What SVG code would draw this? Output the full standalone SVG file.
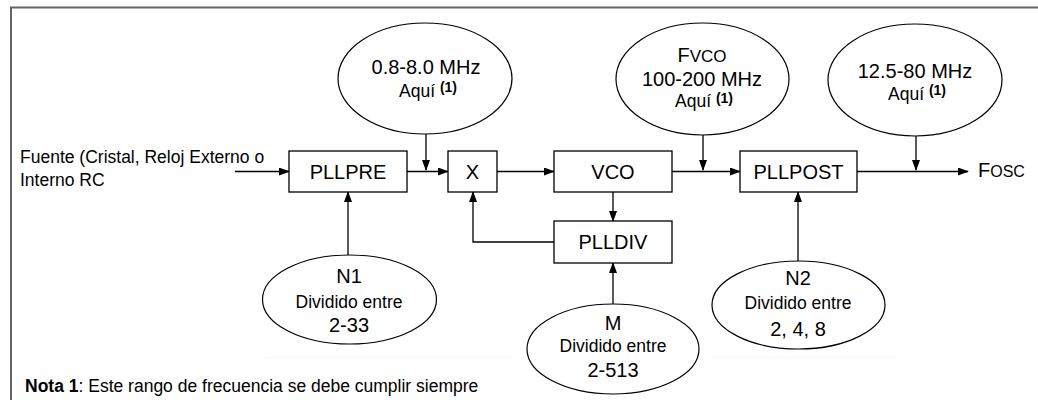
<svg xmlns="http://www.w3.org/2000/svg" width="1038" height="400" viewBox="0 0 1038 400">
<defs>
<marker id="ah" markerUnits="userSpaceOnUse" markerWidth="11" markerHeight="8" refX="10" refY="4" orient="auto">
<path d="M0,0 L11,4 L0,8 z" fill="#000"/>
</marker>
<style>
text{font-family:"Liberation Sans",Arial,sans-serif;fill:#000}
.box{fill:#fff;stroke:#000;stroke-width:1.3}
.ell{fill:#fff;stroke:#000;stroke-width:1.2}
.c{fill:none;stroke:#000;stroke-width:1.3}
.a{marker-end:url(#ah)}
.bl{font-size:20px;text-anchor:middle}
.big{font-size:20px;text-anchor:middle}
.sm{font-size:17.5px;text-anchor:middle}
.sup{font-size:14px;font-weight:bold}
.frame{fill:none;stroke:#666;stroke-width:2}
</style>
</defs>
<rect width="1038" height="400" fill="#fff"/>
<path class="frame" d="M11,400 V7.5 H1038"/>
<line x1="265" y1="357.5" x2="512" y2="357.5" stroke="#f7f7f7" stroke-width="1"/>
<line x1="712" y1="357.5" x2="898" y2="357.5" stroke="#f7f7f7" stroke-width="1"/>

<g id="connectors">
<line class="c a" x1="235" y1="171.5" x2="289" y2="171.5"/>
<line class="c a" x1="407" y1="171.5" x2="448" y2="171.5"/>
<line class="c a" x1="426" y1="134" x2="426" y2="170"/>
<line class="c a" x1="497" y1="171.5" x2="554" y2="171.5"/>
<line class="c a" x1="672" y1="171.5" x2="740" y2="171.5"/>
<line class="c a" x1="703" y1="135" x2="703" y2="170"/>
<line class="c a" x1="857" y1="171.5" x2="968" y2="171.5"/>
<line class="c a" x1="916" y1="136" x2="916" y2="170"/>
<line class="c a" x1="613" y1="192" x2="613" y2="221"/>
<polyline class="c a" points="554,242 473,242 473,192"/>
<line class="c a" x1="348" y1="255" x2="348" y2="192"/>
<line class="c a" x1="613" y1="304" x2="613" y2="263"/>
<line class="c a" x1="798" y1="261" x2="798" y2="192"/>
</g>

<g id="input-label">
<text x="20" y="163" style="font-size:17.5px">Fuente (Cristal, Reloj Externo o</text>
<text x="20" y="186" style="font-size:17.5px">Interno RC</text>
</g>

<g id="pllpre">
<rect class="box" x="289" y="151" width="118" height="41"/>
<text class="bl" x="348" y="179">PLLPRE</text>
</g>
<g id="mixer">
<rect class="box" x="448" y="151" width="49" height="41"/>
<text class="bl" x="472.5" y="179">X</text>
</g>
<g id="vco">
<rect class="box" x="554" y="151" width="118" height="41"/>
<text class="bl" x="613" y="179">VCO</text>
</g>
<g id="pllpost">
<rect class="box" x="740" y="151" width="117" height="41"/>
<text class="bl" x="798.5" y="179">PLLPOST</text>
</g>
<g id="plldiv">
<rect class="box" x="554" y="221" width="118" height="42"/>
<text class="bl" x="613" y="249">PLLDIV</text>
</g>
<g id="fosc">
<text x="978" y="177" style="font-size:20px">F<tspan style="font-size:16px">OSC</tspan></text>
</g>

<g id="ell-pre">
<ellipse class="ell" cx="425" cy="78.5" rx="87" ry="55.5"/>
<text class="big" x="426" y="74">0.8-8.0 MHz</text>
<text class="sm" x="428" y="97">Aquí <tspan class="sup" dy="-5">(1)</tspan></text>
</g>
<g id="ell-vco">
<ellipse class="ell" cx="702.5" cy="79" rx="86.5" ry="56"/>
<text class="big" x="702" y="62">F<tspan style="font-size:17px">VCO</tspan></text>
<text class="big" x="702" y="86">100-200 MHz</text>
<text class="sm" x="704" y="107">Aquí <tspan class="sup" dy="-4">(1)</tspan></text>
</g>
<g id="ell-post">
<ellipse class="ell" cx="915" cy="80" rx="87" ry="56"/>
<text class="big" x="915" y="78">12.5-80 MHz</text>
<text class="sm" x="917" y="100">Aquí <tspan class="sup" dy="-5">(1)</tspan></text>
</g>
<g id="n1">
<ellipse class="ell" cx="349.5" cy="299.5" rx="87" ry="44.5"/>
<text class="big" x="349" y="283">N1</text>
<text class="sm" x="349" y="308">Dividido entre</text>
<text class="big" x="349" y="332">2-33</text>
</g>
<g id="m">
<ellipse class="ell" cx="613" cy="349" rx="86" ry="45"/>
<text class="big" x="613" y="330">M</text>
<text class="sm" x="613" y="352">Dividido entre</text>
<text class="big" x="613" y="377">2-513</text>
</g>
<g id="n2">
<ellipse class="ell" cx="798.5" cy="305" rx="86.5" ry="44"/>
<text class="big" x="798" y="285">N2</text>
<text class="sm" x="798" y="309">Dividido entre</text>
<text class="big" x="798" y="336">2, 4, 8</text>
</g>

<g id="note">
<text x="25" y="392" style="font-size:17.5px"><tspan font-weight="bold">Nota 1</tspan>: Este rango de frecuencia se debe cumplir siempre</text>
</g>
</svg>
